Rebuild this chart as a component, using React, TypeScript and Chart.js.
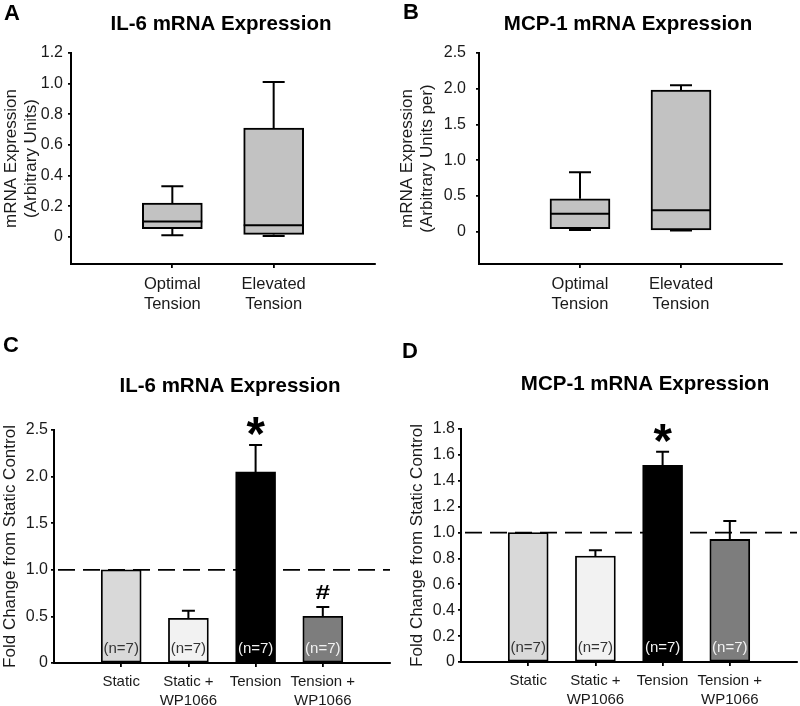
import React, { useEffect, useRef } from "react";
import { Chart, registerables } from "chart.js";

Chart.register(...registerables);

const FONT = "'Liberation Sans', Arial, Helvetica, sans-serif";
const TEXT = "#1a1a1a";

// ---------- Panels A & B: box plots ----------
const boxCategories = [["Optimal", "Tension"], ["Elevated", "Tension"]];

const il6BoxMin = [0.01, 0.005];
const il6BoxQ1 = [0.052, 0.015];
const il6BoxMedian = [0.1, 0.075];
const il6BoxQ3 = [0.22, 0.71];
const il6BoxMax = [0.33, 1.01];
const il6BoxTicks = [0, 0.2, 0.4, 0.6, 0.8, 1.0, 1.2];
const il6BoxTickLabels = ["0", "0.2", "0.4", "0.6", "0.8", "1.0", "1.2"];

const mcpBoxMin = [0.025, 0.015];
const mcpBoxQ1 = [0.042, 0.025];
const mcpBoxMedian = [0.25, 0.3];
const mcpBoxQ3 = [0.46, 1.98];
const mcpBoxMax = [0.83, 2.05];
const mcpBoxTicks = [0, 0.5, 1.0, 1.5, 2.0, 2.5];
const mcpBoxTickLabels = ["0", "0.5", "1.0", "1.5", "2.0", "2.5"];

// ---------- Panels C & D: bar charts ----------
const barCategories = [["Static"], ["Static +", "WP1066"], ["Tension"], ["Tension +", "WP1066"]];
const barColors = ["#d9d9d9", "#f2f2f2", "#000000", "#7d7d7d"];
const nLabels = ["(n=7)", "(n=7)", "(n=7)", "(n=7)"];
const nLabelColors = ["#333333", "#333333", "#f2f2f2", "#f2f2f2"];
const referenceLevel = 1.0;

const il6FoldMean = [1.0, 0.48, 2.05, 0.5];
const il6FoldSem = [0, 0.08, 0.29, 0.1];
const il6Marks = ["", "", "*", "#"];
const il6FoldTicks = [0, 0.5, 1.0, 1.5, 2.0, 2.5];
const il6FoldTickLabels = ["0", "0.5", "1.0", "1.5", "2.0", "2.5"];

const mcpFoldMean = [1.0, 0.818, 1.52, 0.947];
const mcpFoldSem = [0, 0.046, 0.105, 0.142];
const mcpMarks = ["", "", "*", ""];
const mcpFoldTicks = [0, 0.2, 0.4, 0.6, 0.8, 1.0, 1.2, 1.4, 1.6, 1.8];
const mcpFoldTickLabels = ["0", "0.2", "0.4", "0.6", "0.8", "1.0", "1.2", "1.4", "1.6", "1.8"];

type Header = { letter: string; lx: number; ly: number; title: string; tx: number; ty: number };

function headerPlugin(h: Header) {
  return {
    id: "header",
    afterDraw(chart: any) {
      const ctx = chart.ctx;
      ctx.save();
      ctx.fillStyle = "#000";
      ctx.textBaseline = "alphabetic";
      ctx.font = `bold 22px ${FONT}`;
      ctx.textAlign = "left";
      ctx.fillText(h.letter, h.lx, h.ly);
      ctx.font = `bold 20.5px ${FONT}`;
      ctx.textAlign = "center";
      ctx.fillText(h.title, h.tx, h.ty);
      ctx.restore();
    },
  };
}

function yAxis(opts: {
  min: number; max: number; ticks: number[]; labels: string[]; width: number;
  title: string | string[]; titlePad: number; tickLen: number; tickPad: number;
}) {
  return {
    type: "linear",
    min: opts.min,
    max: opts.max,
    afterBuildTicks: (s: any) => {
      s.ticks = opts.ticks.map((v) => ({ value: v }));
    },
    afterFit: (s: any) => {
      s.width = opts.width;
    },
    ticks: {
      callback: (_v: any, i: number) => opts.labels[i],
      font: { family: FONT, size: 16 },
      color: TEXT,
      padding: opts.tickPad,
    },
    grid: {
      display: true,
      drawOnChartArea: false,
      drawTicks: true,
      tickLength: opts.tickLen,
      color: "#000",
      lineWidth: 1.8,
    },
    border: { display: true, color: "#000", width: 2 },
    title: {
      display: true,
      text: opts.title,
      font: { family: FONT, size: 17, lineHeight: 1.2 },
      color: TEXT,
      padding: { top: opts.titlePad, bottom: 0 },
    },
  };
}

function xAxis(opts: {
  max: number; labels: string[][]; height: number; size: number; lineHeight: number; tickPad: number;
}) {
  return {
    type: "linear",
    min: 0,
    max: opts.max,
    offset: false,
    afterBuildTicks: (s: any) => {
      s.ticks = opts.labels.map((_l, i) => ({ value: i + 1 }));
    },
    afterFit: (s: any) => {
      s.height = opts.height;
    },
    ticks: {
      callback: (_v: any, i: number) => opts.labels[i],
      font: { family: FONT, size: opts.size, lineHeight: opts.lineHeight },
      color: TEXT,
      padding: opts.tickPad,
      autoSkip: false,
      maxRotation: 0,
      minRotation: 0,
    },
    grid: {
      display: true,
      offset: false,
      drawOnChartArea: false,
      drawTicks: true,
      tickLength: 4,
      color: "#000",
      lineWidth: 1.8,
    },
    border: { display: true, color: "#000", width: 2 },
  };
}

type BoxData = { min: number[]; q1: number[]; median: number[]; q3: number[]; max: number[] };

function whiskerPlugin(b: BoxData) {
  return {
    id: "whiskers",
    afterDatasetsDraw(chart: any) {
      const ctx = chart.ctx;
      const y = chart.scales.y;
      const meta = chart.getDatasetMeta(0);
      ctx.save();
      ctx.strokeStyle = "#000";
      ctx.lineWidth = 2;
      b.q1.forEach((_q, i) => {
        const el = meta.data[i];
        const cx = el.x;
        const half = el.width / 2;
        const cap = 11;
        const yMed = y.getPixelForValue(b.median[i]);
        const yQ1 = y.getPixelForValue(b.q1[i]);
        const yQ3 = y.getPixelForValue(b.q3[i]);
        const yMin = y.getPixelForValue(b.min[i]);
        const yMax = y.getPixelForValue(b.max[i]);
        ctx.beginPath();
        ctx.moveTo(cx - half, yMed);
        ctx.lineTo(cx + half, yMed);
        ctx.moveTo(cx, yQ3);
        ctx.lineTo(cx, yMax);
        ctx.moveTo(cx - cap, yMax);
        ctx.lineTo(cx + cap, yMax);
        ctx.moveTo(cx, yQ1);
        ctx.lineTo(cx, yMin);
        ctx.moveTo(cx - cap, yMin);
        ctx.lineTo(cx + cap, yMin);
        ctx.stroke();
      });
      ctx.restore();
    },
  };
}

function boxConfig(p: {
  data: BoxData; yMin: number; yMax: number; ticks: number[]; labels: string[];
  left: number; right: number; yTitle: string[]; titlePad: number; tickPad: number; header: Header;
}) {
  return {
    type: "bar",
    data: {
      datasets: [
        {
          data: p.data.q1.map((q, i) => ({ x: i + 1, y: [q, p.data.q3[i]] })),
          backgroundColor: "#c2c2c2",
          borderColor: "#000",
          borderWidth: 2,
          borderSkipped: false,
          barThickness: 60,
        },
      ],
    },
    options: {
      animation: false,
      responsive: false,
      events: [],
      layout: { padding: { left: 0, top: 53, right: p.right, bottom: 0 } },
      plugins: { legend: { display: false }, tooltip: { enabled: false }, title: { display: false } },
      scales: {
        x: xAxis({ max: 3, labels: boxCategories, height: 66, size: 16.5, lineHeight: 1.2, tickPad: 7 }),
        y: yAxis({
          min: p.yMin, max: p.yMax, ticks: p.ticks, labels: p.labels, width: p.left,
          title: p.yTitle, titlePad: p.titlePad, tickLen: 3, tickPad: p.tickPad,
        }),
      },
    },
    plugins: [whiskerPlugin(p.data), headerPlugin(p.header)],
  };
}

function glyphFont(ctx: CanvasRenderingContext2D, glyph: string, height: number) {
  ctx.font = `bold 100px ${FONT}`;
  const m = ctx.measureText(glyph);
  const h = m.actualBoundingBoxAscent + m.actualBoundingBoxDescent;
  const size = (100 * height) / (h || 70);
  ctx.font = `bold ${size}px ${FONT}`;
  const m2 = ctx.measureText(glyph);
  return { asc: m2.actualBoundingBoxAscent, desc: m2.actualBoundingBoxDescent };
}

function barExtrasPlugin(mean: number[], sem: number[], marks: string[]) {
  return {
    id: "barExtras",
    afterDatasetsDraw(chart: any) {
      const ctx = chart.ctx as CanvasRenderingContext2D;
      const y = chart.scales.y;
      const meta = chart.getDatasetMeta(0);
      ctx.save();
      mean.forEach((m, i) => {
        const el = meta.data[i];
        const cx = el.x;
        const yTop = y.getPixelForValue(m);
        const yErr = y.getPixelForValue(m + sem[i]);
        if (sem[i] > 0) {
          ctx.strokeStyle = "#000";
          ctx.lineWidth = 2;
          ctx.beginPath();
          ctx.moveTo(cx, yTop);
          ctx.lineTo(cx, yErr);
          ctx.moveTo(cx - 6.5, yErr);
          ctx.lineTo(cx + 6.5, yErr);
          ctx.stroke();
        }
        ctx.fillStyle = nLabelColors[i];
        ctx.font = `15px ${FONT}`;
        ctx.textAlign = "center";
        ctx.textBaseline = "middle";
        ctx.fillText(nLabels[i], cx, y.getPixelForValue(0) - 14);
        const mk = marks[i];
        if (mk) {
          ctx.fillStyle = "#000";
          ctx.textAlign = "center";
          ctx.textBaseline = "alphabetic";
          const gh = mk === "*" ? 18 : 14.5;
          const gap = mk === "*" ? 19 : 15.5;
          const { asc, desc } = glyphFont(ctx, mk, gh);
          const center = yErr - gap;
          const base = center - (desc - asc) / 2;
          ctx.save();
          if (mk === "#") {
            ctx.translate(cx, 0);
            ctx.scale(1.25, 1);
            ctx.fillText(mk, 0, base);
          } else {
            ctx.fillText(mk, cx, base);
          }
          ctx.restore();
        }
      });
      ctx.restore();
    },
  };
}

function barConfig(p: {
  mean: number[]; sem: number[]; marks: string[]; yMax: number; ticks: number[]; labels: string[];
  left: number; top: number; right: number; xHeight: number; titlePad: number; header: Header;
}) {
  return {
    type: "bar",
    data: {
      datasets: [
        {
          type: "bar",
          data: p.mean.map((v, i) => ({ x: i + 1, y: v })),
          backgroundColor: barColors,
          borderColor: "#000",
          borderWidth: 1.8,
          borderSkipped: false,
          barThickness: 40,
          order: 1,
        },
        {
          type: "line",
          data: [
            { x: 0, y: referenceLevel },
            { x: barCategories.length + 1, y: referenceLevel },
          ],
          borderColor: "#000",
          borderWidth: 1.8,
          borderDash: [17, 8],
          borderDashOffset: -4,
          pointRadius: 0,
          fill: false,
          order: 2,
        },
      ],
    },
    options: {
      animation: false,
      responsive: false,
      events: [],
      layout: { padding: { left: 0, top: p.top, right: p.right, bottom: 0 } },
      plugins: { legend: { display: false }, tooltip: { enabled: false }, title: { display: false } },
      scales: {
        x: xAxis({
          max: barCategories.length + 1, labels: barCategories, height: p.xHeight,
          size: 15, lineHeight: 1.22, tickPad: 6,
        }),
        y: yAxis({
          min: 0, max: p.yMax, ticks: p.ticks, labels: p.labels, width: p.left,
          title: "Fold Change from Static Control", titlePad: p.titlePad, tickLen: 3, tickPad: 3,
        }),
      },
    },
    plugins: [barExtrasPlugin(p.mean, p.sem, p.marks), headerPlugin(p.header)],
  };
}

function ChartCanvas(props: { x: number; y: number; w: number; h: number; make: () => any }) {
  const ref = useRef<HTMLCanvasElement | null>(null);
  useEffect(() => {
    if (!ref.current) return;
    const chart = new Chart(ref.current, props.make());
    return () => chart.destroy();
  }, []);
  return (
    <canvas
      ref={ref}
      width={props.w}
      height={props.h}
      style={{ position: "absolute", left: props.x, top: props.y, width: props.w, height: props.h }}
    />
  );
}

export default function App() {
  return (
    <div style={{ position: "absolute", left: 0, top: 0, width: 800, height: 706, background: "#fff", overflow: "hidden" }}>
      <ChartCanvas
        x={0} y={0} w={400} h={330}
        make={() =>
          boxConfig({
            data: { min: il6BoxMin, q1: il6BoxQ1, median: il6BoxMedian, q3: il6BoxQ3, max: il6BoxMax },
            yMin: -0.178, yMax: 1.2, ticks: il6BoxTicks, labels: il6BoxTickLabels,
            left: 71, right: 25, yTitle: ["mRNA Expression", "(Arbitrary Units)"], titlePad: 1, tickPad: 5,
            header: { letter: "A", lx: 4, ly: 20, title: "IL-6 mRNA Expression", tx: 221, ty: 30 },
          })
        }
      />
      <ChartCanvas
        x={400} y={0} w={400} h={330}
        make={() =>
          boxConfig({
            data: { min: mcpBoxMin, q1: mcpBoxQ1, median: mcpBoxMedian, q3: mcpBoxQ3, max: mcpBoxMax },
            yMin: -0.452, yMax: 2.5, ticks: mcpBoxTicks, labels: mcpBoxTickLabels,
            left: 79, right: 18, yTitle: ["mRNA Expression", "(Arbitrary Units per)"], titlePad: -3, tickPad: 10,
            header: { letter: "B", lx: 3, ly: 19, title: "MCP-1 mRNA Expression", tx: 228, ty: 30 },
          })
        }
      />
      <ChartCanvas
        x={0} y={330} w={400} h={376}
        make={() =>
          barConfig({
            mean: il6FoldMean, sem: il6FoldSem, marks: il6Marks, yMax: 2.5,
            ticks: il6FoldTicks, labels: il6FoldTickLabels,
            left: 54, top: 100, right: 10, xHeight: 43, titlePad: 0,
            header: { letter: "C", lx: 3, ly: 22, title: "IL-6 mRNA Expression", tx: 230, ty: 62 },
          })
        }
      />
      <ChartCanvas
        x={400} y={330} w={400} h={376}
        make={() =>
          barConfig({
            mean: mcpFoldMean, sem: mcpFoldSem, marks: mcpMarks, yMax: 1.8,
            ticks: mcpFoldTicks, labels: mcpFoldTickLabels,
            left: 61, top: 99, right: 3, xHeight: 44, titlePad: 7,
            header: { letter: "D", lx: 2, ly: 28, title: "MCP-1 mRNA Expression", tx: 245, ty: 60 },
          })
        }
      />
    </div>
  );
}
